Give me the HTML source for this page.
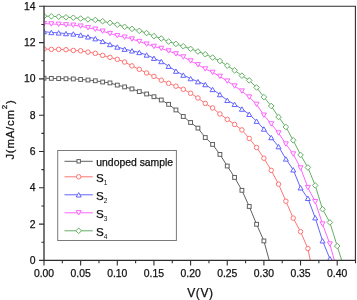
<!DOCTYPE html>
<html><head><meta charset="utf-8"><style>
html,body{margin:0;padding:0;background:#fff;}
svg{display:block;font-family:"Liberation Sans",sans-serif;filter:blur(0.3px);}
</style></head><body>
<svg width="357" height="300" viewBox="0 0 357 300">
<rect width="357" height="300" fill="#fff"/>
<defs><clipPath id="pc"><rect x="44" y="6" width="312" height="254.4"/></clipPath><clipPath id="mc"><rect x="44" y="6" width="311.4" height="254.4"/></clipPath></defs>
<path clip-path="url(#pc)" d="M44 78.21 L51.33 78.39 L58.66 78.57 L65.99 78.75 L73.32 78.93 L80.65 79.48 L87.98 80.02 L95.31 80.75 L102.64 82.02 L109.97 82.92 L117.3 85.1 L124.63 86.92 L131.96 88.91 L139.29 91.63 L146.62 93.99 L153.95 96.71 L161.28 99.98 L168.61 104.33 L175.94 109.96 L183.27 116.49 L190.6 122.48 L197.93 128.1 L205.26 137.53 L212.59 144.43 L219.92 154.41 L227.25 166.02 L234.58 177.45 L241.91 190.33 L249.24 206.48 L256.57 224.26 L263.9 240.95 L271.23 267.62" fill="none" stroke="#606060" stroke-width="1"/>
<path clip-path="url(#pc)" d="M44 49 L51.33 49.36 L58.66 49.36 L65.99 49.72 L73.32 50.45 L80.65 50.81 L87.98 52.08 L95.31 53.35 L102.64 55.35 L109.97 57.34 L117.3 59.34 L124.63 62.06 L131.96 65.87 L139.29 69.32 L146.62 72.95 L153.95 76.39 L161.28 80.2 L168.61 83.29 L175.94 86.19 L183.27 89.27 L190.6 93.27 L197.93 97.98 L205.26 103.43 L212.59 107.96 L219.92 113.95 L227.25 119.39 L234.58 124.47 L241.91 129.91 L249.24 138.44 L256.57 147.51 L263.9 158.22 L271.23 170.37 L278.56 184.16 L285.89 201.22 L293.22 218.09 L300.55 231.7 L307.88 248.57 L315.21 284.31" fill="none" stroke="#ff7474" stroke-width="1"/>
<path clip-path="url(#pc)" d="M44 31.58 L51.33 32.49 L58.66 32.85 L65.99 33.58 L73.32 33.94 L80.65 35.03 L87.98 36.84 L95.31 38.66 L102.64 41.38 L109.97 44.46 L117.3 47 L124.63 49.18 L131.96 50.81 L139.29 52.44 L146.62 54.98 L153.95 58.25 L161.28 61.52 L168.61 66.23 L175.94 71.13 L183.27 75.12 L190.6 78.57 L197.93 81.65 L205.26 84.56 L212.59 89.46 L219.92 94.54 L227.25 100.34 L234.58 104.33 L241.91 109.05 L249.24 114.31 L256.57 121.21 L263.9 129.01 L271.23 137.53 L278.56 146.61 L285.89 158.94 L293.22 169.83 L300.55 187.79 L307.88 198.31 L315.21 217.73 L322.54 240.77 L329.87 258.73 L337.2 278.14" fill="none" stroke="#6464ff" stroke-width="1"/>
<path clip-path="url(#pc)" d="M44 23.6 L51.33 23.96 L58.66 24.32 L65.99 24.87 L73.32 25.23 L80.65 26.14 L87.98 27.77 L95.31 29.22 L102.64 31.22 L109.97 33.58 L117.3 35.75 L124.63 37.2 L131.96 39.02 L139.29 41.56 L146.62 44.1 L153.95 46.46 L161.28 48.45 L168.61 50.99 L175.94 53.9 L183.27 56.98 L190.6 60.97 L197.93 64.78 L205.26 68.95 L212.59 72.4 L219.92 76.39 L227.25 81.11 L234.58 86.01 L241.91 91.09 L249.24 97.08 L256.57 104.33 L263.9 115.22 L271.23 123.93 L278.56 133 L285.89 144.07 L293.22 154.04 L300.55 168.01 L307.88 187.61 L315.21 201.76 L322.54 224.08 L329.87 244.03 L337.2 270.7" fill="none" stroke="#ff64ff" stroke-width="1"/>
<path clip-path="url(#pc)" d="M44 16.16 L51.33 16.34 L58.66 16.7 L65.99 17.25 L73.32 17.7 L80.65 18.52 L87.98 19.42 L95.31 19.97 L102.64 21.24 L109.97 22.87 L117.3 24.69 L124.63 26.86 L131.96 28.86 L139.29 30.85 L146.62 33.03 L153.95 36.12 L161.28 38.47 L168.61 41.56 L175.94 43.92 L183.27 46.28 L190.6 48.82 L197.93 51.54 L205.26 54.26 L212.59 57.52 L219.92 60.97 L227.25 65.69 L234.58 70.41 L241.91 75.67 L249.24 80.38 L256.57 87.46 L263.9 97.08 L271.23 105.97 L278.56 117.03 L285.89 127.01 L293.22 140.26 L300.55 154.95 L307.88 167.47 L315.21 185.43 L322.54 209.2 L329.87 222.44 L337.2 246.03 L344.53 269.25" fill="none" stroke="#64b064" stroke-width="1"/>
<g clip-path="url(#mc)" fill="#fff" stroke="#606060" stroke-width="1"><rect x="42.1" y="76.31" width="3.8" height="3.8"/><rect x="49.43" y="76.49" width="3.8" height="3.8"/><rect x="56.76" y="76.67" width="3.8" height="3.8"/><rect x="64.09" y="76.85" width="3.8" height="3.8"/><rect x="71.42" y="77.03" width="3.8" height="3.8"/><rect x="78.75" y="77.58" width="3.8" height="3.8"/><rect x="86.08" y="78.12" width="3.8" height="3.8"/><rect x="93.41" y="78.85" width="3.8" height="3.8"/><rect x="100.74" y="80.12" width="3.8" height="3.8"/><rect x="108.07" y="81.02" width="3.8" height="3.8"/><rect x="115.4" y="83.2" width="3.8" height="3.8"/><rect x="122.73" y="85.02" width="3.8" height="3.8"/><rect x="130.06" y="87.01" width="3.8" height="3.8"/><rect x="137.39" y="89.73" width="3.8" height="3.8"/><rect x="144.72" y="92.09" width="3.8" height="3.8"/><rect x="152.05" y="94.81" width="3.8" height="3.8"/><rect x="159.38" y="98.08" width="3.8" height="3.8"/><rect x="166.71" y="102.43" width="3.8" height="3.8"/><rect x="174.04" y="108.06" width="3.8" height="3.8"/><rect x="181.37" y="114.59" width="3.8" height="3.8"/><rect x="188.7" y="120.58" width="3.8" height="3.8"/><rect x="196.03" y="126.2" width="3.8" height="3.8"/><rect x="203.36" y="135.63" width="3.8" height="3.8"/><rect x="210.69" y="142.53" width="3.8" height="3.8"/><rect x="218.02" y="152.51" width="3.8" height="3.8"/><rect x="225.35" y="164.12" width="3.8" height="3.8"/><rect x="232.68" y="175.55" width="3.8" height="3.8"/><rect x="240.01" y="188.43" width="3.8" height="3.8"/><rect x="247.34" y="204.58" width="3.8" height="3.8"/><rect x="254.67" y="222.36" width="3.8" height="3.8"/><rect x="262" y="239.05" width="3.8" height="3.8"/></g>
<g clip-path="url(#mc)" fill="#fff" stroke="#ff7474" stroke-width="1"><circle cx="44" cy="49" r="2.25"/><circle cx="51.33" cy="49.36" r="2.25"/><circle cx="58.66" cy="49.36" r="2.25"/><circle cx="65.99" cy="49.72" r="2.25"/><circle cx="73.32" cy="50.45" r="2.25"/><circle cx="80.65" cy="50.81" r="2.25"/><circle cx="87.98" cy="52.08" r="2.25"/><circle cx="95.31" cy="53.35" r="2.25"/><circle cx="102.64" cy="55.35" r="2.25"/><circle cx="109.97" cy="57.34" r="2.25"/><circle cx="117.3" cy="59.34" r="2.25"/><circle cx="124.63" cy="62.06" r="2.25"/><circle cx="131.96" cy="65.87" r="2.25"/><circle cx="139.29" cy="69.32" r="2.25"/><circle cx="146.62" cy="72.95" r="2.25"/><circle cx="153.95" cy="76.39" r="2.25"/><circle cx="161.28" cy="80.2" r="2.25"/><circle cx="168.61" cy="83.29" r="2.25"/><circle cx="175.94" cy="86.19" r="2.25"/><circle cx="183.27" cy="89.27" r="2.25"/><circle cx="190.6" cy="93.27" r="2.25"/><circle cx="197.93" cy="97.98" r="2.25"/><circle cx="205.26" cy="103.43" r="2.25"/><circle cx="212.59" cy="107.96" r="2.25"/><circle cx="219.92" cy="113.95" r="2.25"/><circle cx="227.25" cy="119.39" r="2.25"/><circle cx="234.58" cy="124.47" r="2.25"/><circle cx="241.91" cy="129.91" r="2.25"/><circle cx="249.24" cy="138.44" r="2.25"/><circle cx="256.57" cy="147.51" r="2.25"/><circle cx="263.9" cy="158.22" r="2.25"/><circle cx="271.23" cy="170.37" r="2.25"/><circle cx="278.56" cy="184.16" r="2.25"/><circle cx="285.89" cy="201.22" r="2.25"/><circle cx="293.22" cy="218.09" r="2.25"/><circle cx="300.55" cy="231.7" r="2.25"/><circle cx="307.88" cy="248.57" r="2.25"/></g>
<g clip-path="url(#mc)" fill="#fff" stroke="#6464ff" stroke-width="1"><path d="M44 29.38L46.5 33.78L41.5 33.78Z"/><path d="M51.33 30.29L53.83 34.69L48.83 34.69Z"/><path d="M58.66 30.65L61.16 35.05L56.16 35.05Z"/><path d="M65.99 31.38L68.49 35.78L63.49 35.78Z"/><path d="M73.32 31.74L75.82 36.14L70.82 36.14Z"/><path d="M80.65 32.83L83.15 37.23L78.15 37.23Z"/><path d="M87.98 34.64L90.48 39.04L85.48 39.04Z"/><path d="M95.31 36.46L97.81 40.86L92.81 40.86Z"/><path d="M102.64 39.18L105.14 43.58L100.14 43.58Z"/><path d="M109.97 42.26L112.47 46.66L107.47 46.66Z"/><path d="M117.3 44.8L119.8 49.2L114.8 49.2Z"/><path d="M124.63 46.98L127.13 51.38L122.13 51.38Z"/><path d="M131.96 48.61L134.46 53.01L129.46 53.01Z"/><path d="M139.29 50.24L141.79 54.64L136.79 54.64Z"/><path d="M146.62 52.78L149.12 57.18L144.12 57.18Z"/><path d="M153.95 56.05L156.45 60.45L151.45 60.45Z"/><path d="M161.28 59.32L163.78 63.72L158.78 63.72Z"/><path d="M168.61 64.03L171.11 68.43L166.11 68.43Z"/><path d="M175.94 68.93L178.44 73.33L173.44 73.33Z"/><path d="M183.27 72.92L185.77 77.32L180.77 77.32Z"/><path d="M190.6 76.37L193.1 80.77L188.1 80.77Z"/><path d="M197.93 79.45L200.43 83.85L195.43 83.85Z"/><path d="M205.26 82.36L207.76 86.76L202.76 86.76Z"/><path d="M212.59 87.26L215.09 91.66L210.09 91.66Z"/><path d="M219.92 92.34L222.42 96.74L217.42 96.74Z"/><path d="M227.25 98.14L229.75 102.54L224.75 102.54Z"/><path d="M234.58 102.13L237.08 106.53L232.08 106.53Z"/><path d="M241.91 106.85L244.41 111.25L239.41 111.25Z"/><path d="M249.24 112.11L251.74 116.51L246.74 116.51Z"/><path d="M256.57 119.01L259.07 123.41L254.07 123.41Z"/><path d="M263.9 126.81L266.4 131.21L261.4 131.21Z"/><path d="M271.23 135.33L273.73 139.73L268.73 139.73Z"/><path d="M278.56 144.41L281.06 148.81L276.06 148.81Z"/><path d="M285.89 156.74L288.39 161.14L283.39 161.14Z"/><path d="M293.22 167.63L295.72 172.03L290.72 172.03Z"/><path d="M300.55 185.59L303.05 189.99L298.05 189.99Z"/><path d="M307.88 196.11L310.38 200.51L305.38 200.51Z"/><path d="M315.21 215.53L317.71 219.93L312.71 219.93Z"/><path d="M322.54 238.57L325.04 242.97L320.04 242.97Z"/><path d="M329.87 256.53L332.37 260.93L327.37 260.93Z"/></g>
<g clip-path="url(#mc)" fill="#fff" stroke="#ff64ff" stroke-width="1"><path d="M41.5 21.4L46.5 21.4L44 25.8Z"/><path d="M48.83 21.76L53.83 21.76L51.33 26.16Z"/><path d="M56.16 22.12L61.16 22.12L58.66 26.52Z"/><path d="M63.49 22.67L68.49 22.67L65.99 27.07Z"/><path d="M70.82 23.03L75.82 23.03L73.32 27.43Z"/><path d="M78.15 23.94L83.15 23.94L80.65 28.34Z"/><path d="M85.48 25.57L90.48 25.57L87.98 29.97Z"/><path d="M92.81 27.02L97.81 27.02L95.31 31.42Z"/><path d="M100.14 29.02L105.14 29.02L102.64 33.42Z"/><path d="M107.47 31.38L112.47 31.38L109.97 35.78Z"/><path d="M114.8 33.55L119.8 33.55L117.3 37.95Z"/><path d="M122.13 35L127.13 35L124.63 39.4Z"/><path d="M129.46 36.82L134.46 36.82L131.96 41.22Z"/><path d="M136.79 39.36L141.79 39.36L139.29 43.76Z"/><path d="M144.12 41.9L149.12 41.9L146.62 46.3Z"/><path d="M151.45 44.26L156.45 44.26L153.95 48.66Z"/><path d="M158.78 46.25L163.78 46.25L161.28 50.65Z"/><path d="M166.11 48.79L171.11 48.79L168.61 53.19Z"/><path d="M173.44 51.7L178.44 51.7L175.94 56.1Z"/><path d="M180.77 54.78L185.77 54.78L183.27 59.18Z"/><path d="M188.1 58.77L193.1 58.77L190.6 63.17Z"/><path d="M195.43 62.58L200.43 62.58L197.93 66.98Z"/><path d="M202.76 66.75L207.76 66.75L205.26 71.15Z"/><path d="M210.09 70.2L215.09 70.2L212.59 74.6Z"/><path d="M217.42 74.19L222.42 74.19L219.92 78.59Z"/><path d="M224.75 78.91L229.75 78.91L227.25 83.31Z"/><path d="M232.08 83.81L237.08 83.81L234.58 88.21Z"/><path d="M239.41 88.89L244.41 88.89L241.91 93.29Z"/><path d="M246.74 94.88L251.74 94.88L249.24 99.28Z"/><path d="M254.07 102.13L259.07 102.13L256.57 106.53Z"/><path d="M261.4 113.02L266.4 113.02L263.9 117.42Z"/><path d="M268.73 121.73L273.73 121.73L271.23 126.13Z"/><path d="M276.06 130.8L281.06 130.8L278.56 135.2Z"/><path d="M283.39 141.87L288.39 141.87L285.89 146.27Z"/><path d="M290.72 151.84L295.72 151.84L293.22 156.24Z"/><path d="M298.05 165.81L303.05 165.81L300.55 170.21Z"/><path d="M305.38 185.41L310.38 185.41L307.88 189.81Z"/><path d="M312.71 199.56L317.71 199.56L315.21 203.96Z"/><path d="M320.04 221.88L325.04 221.88L322.54 226.28Z"/><path d="M327.37 241.83L332.37 241.83L329.87 246.23Z"/></g>
<g clip-path="url(#mc)" fill="#fff" stroke="#64b064" stroke-width="1"><path d="M44 13.36L46.8 16.16L44 18.96L41.2 16.16Z"/><path d="M51.33 13.54L54.13 16.34L51.33 19.14L48.53 16.34Z"/><path d="M58.66 13.9L61.46 16.7L58.66 19.5L55.86 16.7Z"/><path d="M65.99 14.45L68.79 17.25L65.99 20.05L63.19 17.25Z"/><path d="M73.32 14.9L76.12 17.7L73.32 20.5L70.52 17.7Z"/><path d="M80.65 15.72L83.45 18.52L80.65 21.32L77.85 18.52Z"/><path d="M87.98 16.62L90.78 19.42L87.98 22.22L85.18 19.42Z"/><path d="M95.31 17.17L98.11 19.97L95.31 22.77L92.51 19.97Z"/><path d="M102.64 18.44L105.44 21.24L102.64 24.04L99.84 21.24Z"/><path d="M109.97 20.07L112.77 22.87L109.97 25.67L107.17 22.87Z"/><path d="M117.3 21.89L120.1 24.69L117.3 27.49L114.5 24.69Z"/><path d="M124.63 24.06L127.43 26.86L124.63 29.66L121.83 26.86Z"/><path d="M131.96 26.06L134.76 28.86L131.96 31.66L129.16 28.86Z"/><path d="M139.29 28.05L142.09 30.85L139.29 33.65L136.49 30.85Z"/><path d="M146.62 30.23L149.42 33.03L146.62 35.83L143.82 33.03Z"/><path d="M153.95 33.32L156.75 36.12L153.95 38.92L151.15 36.12Z"/><path d="M161.28 35.67L164.08 38.47L161.28 41.27L158.48 38.47Z"/><path d="M168.61 38.76L171.41 41.56L168.61 44.36L165.81 41.56Z"/><path d="M175.94 41.12L178.74 43.92L175.94 46.72L173.14 43.92Z"/><path d="M183.27 43.48L186.07 46.28L183.27 49.08L180.47 46.28Z"/><path d="M190.6 46.02L193.4 48.82L190.6 51.62L187.8 48.82Z"/><path d="M197.93 48.74L200.73 51.54L197.93 54.34L195.13 51.54Z"/><path d="M205.26 51.46L208.06 54.26L205.26 57.06L202.46 54.26Z"/><path d="M212.59 54.72L215.39 57.52L212.59 60.32L209.79 57.52Z"/><path d="M219.92 58.17L222.72 60.97L219.92 63.77L217.12 60.97Z"/><path d="M227.25 62.89L230.05 65.69L227.25 68.49L224.45 65.69Z"/><path d="M234.58 67.61L237.38 70.41L234.58 73.21L231.78 70.41Z"/><path d="M241.91 72.87L244.71 75.67L241.91 78.47L239.11 75.67Z"/><path d="M249.24 77.58L252.04 80.38L249.24 83.18L246.44 80.38Z"/><path d="M256.57 84.66L259.37 87.46L256.57 90.26L253.77 87.46Z"/><path d="M263.9 94.28L266.7 97.08L263.9 99.88L261.1 97.08Z"/><path d="M271.23 103.17L274.03 105.97L271.23 108.77L268.43 105.97Z"/><path d="M278.56 114.23L281.36 117.03L278.56 119.83L275.76 117.03Z"/><path d="M285.89 124.21L288.69 127.01L285.89 129.81L283.09 127.01Z"/><path d="M293.22 137.46L296.02 140.26L293.22 143.06L290.42 140.26Z"/><path d="M300.55 152.15L303.35 154.95L300.55 157.75L297.75 154.95Z"/><path d="M307.88 164.67L310.68 167.47L307.88 170.27L305.08 167.47Z"/><path d="M315.21 182.63L318.01 185.43L315.21 188.23L312.41 185.43Z"/><path d="M322.54 206.4L325.34 209.2L322.54 212L319.74 209.2Z"/><path d="M329.87 219.64L332.67 222.44L329.87 225.24L327.07 222.44Z"/><path d="M337.2 243.23L340 246.03L337.2 248.83L334.4 246.03Z"/></g>
<g stroke="#2e2e2e" fill="none">
<path d="M44 6.3H355.4V260.4" stroke-width="1.1"/>
<path d="M44 5.8V260.4H356" stroke-width="1.3"/>
<path d="M44 260.4V265.6 M62.33 260.4V263.2 M80.65 260.4V265.6 M98.98 260.4V263.2 M117.3 260.4V265.6 M135.62 260.4V263.2 M153.95 260.4V265.6 M172.28 260.4V263.2 M190.6 260.4V265.6 M208.93 260.4V263.2 M227.25 260.4V265.6 M245.58 260.4V263.2 M263.9 260.4V265.6 M282.23 260.4V263.2 M300.55 260.4V265.6 M318.88 260.4V263.2 M337.2 260.4V265.6 M355.53 260.4V263.2 M44 260.4H39 M44 242.25H41.4 M44 224.1H39 M44 205.95H41.4 M44 187.8H39 M44 169.65H41.4 M44 151.5H39 M44 133.35H41.4 M44 115.2H39 M44 97.05H41.4 M44 78.9H39 M44 60.75H41.4 M44 42.6H39 M44 24.45H41.4 M44 6.3H39" stroke-width="1.1"/>
</g>
<g font-size="10.4" fill="#111" stroke="#111" stroke-width="0.25"><text x="44" y="277" text-anchor="middle">0.00</text><text x="80.65" y="277" text-anchor="middle">0.05</text><text x="117.3" y="277" text-anchor="middle">0.10</text><text x="153.95" y="277" text-anchor="middle">0.15</text><text x="190.6" y="277" text-anchor="middle">0.20</text><text x="227.25" y="277" text-anchor="middle">0.25</text><text x="263.9" y="277" text-anchor="middle">0.30</text><text x="300.55" y="277" text-anchor="middle">0.35</text><text x="337.2" y="277" text-anchor="middle">0.40</text><text x="35.6" y="263.8" text-anchor="end">0</text><text x="35.6" y="227.5" text-anchor="end">2</text><text x="35.6" y="191.2" text-anchor="end">4</text><text x="35.6" y="154.9" text-anchor="end">6</text><text x="35.6" y="118.6" text-anchor="end">8</text><text x="35.6" y="82.3" text-anchor="end">10</text><text x="35.6" y="46" text-anchor="end">12</text><text x="35.6" y="9.7" text-anchor="end">14</text></g>
<text x="187.2" y="296.6" font-size="12" fill="#111" stroke="#111" stroke-width="0.25" textLength="25.8" lengthAdjust="spacing">V(V)</text>
<text transform="translate(13.7 159.6) rotate(-90)" font-size="11.4" fill="#111" stroke="#111" stroke-width="0.25" textLength="59.3" lengthAdjust="spacing">J(mA/cm<tspan font-size="8" dy="-7">2</tspan><tspan dy="7">)</tspan></text>
<rect x="57.7" y="150.5" width="118.7" height="90" fill="#fff" stroke="#7a7a7a" stroke-width="1"/><path d="M64.5 161.3H92.8" stroke="#606060" stroke-width="1"/><g fill="#fff" stroke="#606060" stroke-width="1"><rect x="76.99" y="159.59" width="3.42" height="3.42"/></g><text x="96.3" y="165.7" font-size="10.4" fill="#111" stroke="#111" stroke-width="0.25">undoped sample</text><path d="M64.5 176.8H92.8" stroke="#ff7474" stroke-width="1"/><g fill="#fff" stroke="#ff7474" stroke-width="1"><circle cx="78.7" cy="176.8" r="2.25"/></g><text x="95.9" y="182.4" font-size="11.6" fill="#111" stroke="#111" stroke-width="0.25">S<tspan font-size="6.6" stroke-width="0" dx="0.2" dy="2.1">1</tspan></text><path d="M64.5 194.8H92.8" stroke="#6464ff" stroke-width="1"/><g fill="#fff" stroke="#6464ff" stroke-width="1"><path d="M78.7 192.6L81.2 197L76.2 197Z"/></g><text x="95.9" y="200.4" font-size="11.6" fill="#111" stroke="#111" stroke-width="0.25">S<tspan font-size="6.6" stroke-width="0" dx="0.2" dy="2.1">2</tspan></text><path d="M64.5 212.8H92.8" stroke="#ff64ff" stroke-width="1"/><g fill="#fff" stroke="#ff64ff" stroke-width="1"><path d="M76.2 210.6L81.2 210.6L78.7 215Z"/></g><text x="95.9" y="218.4" font-size="11.6" fill="#111" stroke="#111" stroke-width="0.25">S<tspan font-size="6.6" stroke-width="0" dx="0.2" dy="2.1">3</tspan></text><path d="M64.5 230.8H92.8" stroke="#64b064" stroke-width="1"/><g fill="#fff" stroke="#64b064" stroke-width="1"><path d="M78.7 228L81.5 230.8L78.7 233.6L75.9 230.8Z"/></g><text x="95.9" y="236.4" font-size="11.6" fill="#111" stroke="#111" stroke-width="0.25">S<tspan font-size="6.6" stroke-width="0" dx="0.2" dy="2.1">4</tspan></text>
</svg>
</body></html>
